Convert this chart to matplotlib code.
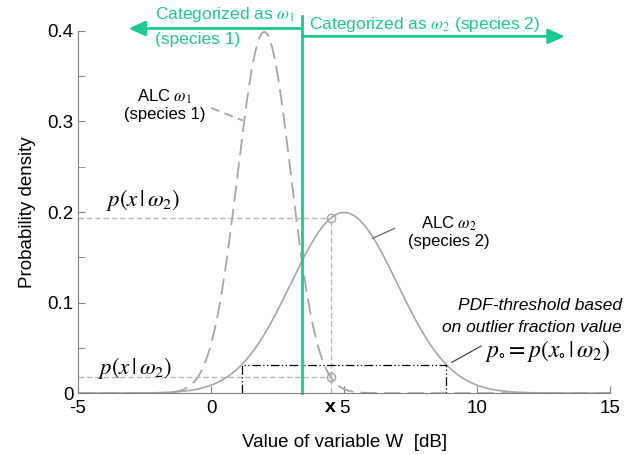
import numpy as np
import matplotlib
matplotlib.use("Agg")
import matplotlib.pyplot as plt

plt.rcParams['font.family'] = ['Liberation Sans', 'DejaVu Sans']
plt.rcParams['mathtext.fontset'] = 'stix'
plt.rcParams['axes.unicode_minus'] = False

# class-conditional densities (normal), mean / std
means = [2.0, 5.0]
stds = [1.0, 2.0]
x_obs = 4.5          # observed value x
p0 = 0.0316          # PDF threshold from outlier fraction
x_ticks = [-5, 0, 5, 10, 15]
y_ticks = [0, 0.1, 0.2, 0.3, 0.4]
y_tick_labels = ['0', '0.1', '0.2', '0.3', '0.4']

GREEN = '#1cc993'
GREY = '#a6a6a6'
LIGHT = '#b8b8b8'


def pdf(x, m, s):
    return np.exp(-0.5 * ((x - m) / s) ** 2) / (s * np.sqrt(2 * np.pi))


x = np.linspace(-5, 15, 801)
p1 = pdf(x, means[0], stds[0])
p2 = pdf(x, means[1], stds[1])

# decision boundary: where the two densities cross
a = 1 / stds[0]**2 - 1 / stds[1]**2
b = -2 * (means[0] / stds[0]**2 - means[1] / stds[1]**2)
c = means[0]**2 / stds[0]**2 - means[1]**2 / stds[1]**2 + 2 * np.log(stds[0] / stds[1])
x_b = (-b + np.sqrt(b**2 - 4 * a * c)) / (2 * a)

# points where omega_2 density equals the threshold
d = stds[1] * np.sqrt(-2 * np.log(p0 * stds[1] * np.sqrt(2 * np.pi)))
x0_lo, x0_hi = means[1] - d, means[1] + d

px1 = pdf(x_obs, means[0], stds[0])
px2 = pdf(x_obs, means[1], stds[1])

fig = plt.figure(figsize=(6.29, 4.55), dpi=100)
ax = fig.add_axes([0.124, 0.136, 0.846, 0.796])

ax.plot(x, p1, color=GREY, lw=1.3, dashes=(9, 4))
ax.plot(x, p2, color=GREY, lw=1.2)

# helper lines at the observed value
ax.plot([-5, x_obs], [px2, px2], color=LIGHT, lw=1, dashes=(4, 2))
ax.plot([-5, x_obs], [px1, px1], color=LIGHT, lw=1, dashes=(4, 2))
ax.plot([x_obs, x_obs], [0, px2], color=LIGHT, lw=1, dashes=(4, 2))
ax.plot([x_obs, x_obs], [px1, px2], 'o', ms=6, mfc='none', mec=GREY, mew=1)

# threshold box
ax.plot([x0_lo, x0_lo, x0_hi, x0_hi], [0, p0, p0, 0], color='black', lw=0.9,
        linestyle=(0, (7, 2, 1, 2, 1, 2)))

# decision boundary and regions
ax.plot([x_b, x_b], [0, 0.417], color=GREEN, lw=2, clip_on=False)
ax.annotate('', xy=(-3.1, 0.4027), xytext=(x_b, 0.4027), annotation_clip=False,
            arrowprops=dict(arrowstyle='-|>,head_length=1.0,head_width=0.45',
                            color=GREEN, lw=2, shrinkA=0, shrinkB=0))
ax.annotate('', xy=(13.3, 0.394), xytext=(x_b, 0.394), annotation_clip=False,
            arrowprops=dict(arrowstyle='-|>,head_length=1.0,head_width=0.45',
                            color=GREEN, lw=2, shrinkA=0, shrinkB=0))
ax.text(-2.1, 0.418, r'Categorized as $\omega_1$', color=GREEN, fontsize=12.5,
        va='center', ha='left', clip_on=False)
ax.text(-2.1, 0.391, '(species 1)', color=GREEN, fontsize=12.5,
        va='center', ha='left', clip_on=False)
ax.text(3.7, 0.407, r'Categorized as $\omega_2$ (species 2)', color=GREEN,
        fontsize=12.5, va='center', ha='left', clip_on=False)

# curve labels
ax.text(-1.75, 0.318, 'ALC $\\omega_1$\n(species 1)', fontsize=12,
        ha='center', va='center', linespacing=1.1)
ax.plot([0.0, 1.2], [0.315, 0.301], color=GREY, lw=1.3, dashes=(5, 3))
ax.text(8.95, 0.178, 'ALC $\\omega_2$\n(species 2)', fontsize=12,
        ha='center', va='center', linespacing=1.1)
ax.plot([6.9, 6.08], [0.182, 0.171], color='#666666', lw=0.9)

ax.text(15.45, 0.097, 'PDF-threshold based', fontsize=12.5, style='italic',
        ha='right', va='center', clip_on=False)
ax.text(15.45, 0.072, 'on outlier fraction value', fontsize=12.5, style='italic',
        ha='right', va='center', clip_on=False)
ax.text(10.3, 0.046, r'$p_{\circ} = p(x_{\circ}\,|\,\omega_2)$', fontsize=17,
        ha='left', va='center', clip_on=False)
ax.plot([10.15, 9.05], [0.052, 0.034], color='#333333', lw=0.8)

ax.text(-3.95, 0.213, r'$p(x\,|\,\omega_2)$', fontsize=16.5, ha='left', va='center')
ax.text(-4.25, 0.028, r'$p(x\,|\,\omega_2)$', fontsize=16.5, ha='left', va='center')
ax.text(x_obs, -0.006, 'x', fontsize=14, fontweight='bold', ha='center', va='top',
        clip_on=False)

ax.set_xlim(-5, 15)
ax.set_ylim(0, 0.4)
ax.set_xticks(x_ticks)
ax.set_yticks(y_ticks)
ax.set_yticklabels(y_tick_labels)
ax.set_yticks([0.05, 0.15, 0.25, 0.35], minor=True)
ax.tick_params(direction='in', labelsize=13.5, length=5, color='#808080', pad=3)
ax.tick_params(axis='x', pad=5)
ax.tick_params(which='minor', direction='in', length=5, color='#808080')
for side in ['top', 'right']:
    ax.spines[side].set_visible(False)
for side in ['left', 'bottom']:
    ax.spines[side].set_color('#808080')

ax.set_xlabel('Value of variable W  [dB]', fontsize=13.5, labelpad=12)
ax.set_ylabel('Probability density', fontsize=13.5, labelpad=8)

fig.savefig('out.png', dpi=100)
